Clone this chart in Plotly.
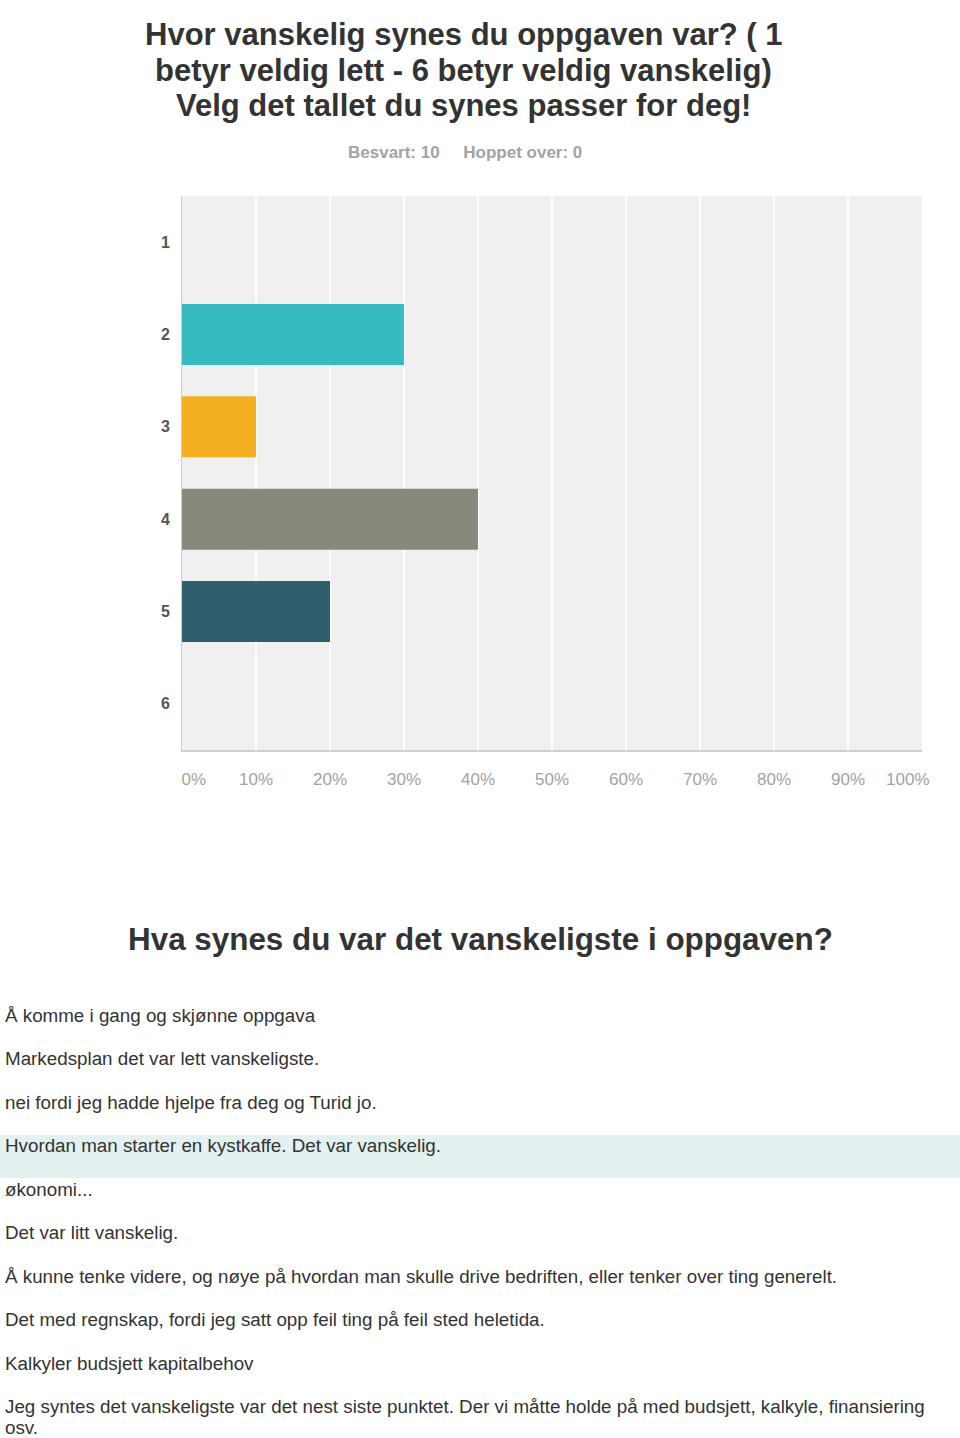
import plotly.graph_objects as go

categories = ["1", "2", "3", "4", "5", "6"]
percent = [0, 30, 10, 40, 20, 0]
bar_colors = ["#36BCC0", "#36BCC0", "#F5AF23", "#878A7A", "#2F5F6C", "#8AB9C9"]
x_ticks = [0, 10, 20, 30, 40, 50, 60, 70, 80, 90, 100]
x_ticklabels = ["0%", "10%", "20%", "30%", "40%", "50%", "60%", "70%", "80%", "90%", "100%"]

title_lines = [
    "Hvor vanskelig synes du oppgaven var? ( 1",
    "betyr veldig lett - 6 betyr veldig vanskelig)",
    "Velg det tallet du synes passer for deg!",
]
subtitle = "Besvart: 10&nbsp;&nbsp;&nbsp;&nbsp;&nbsp;Hoppet over: 0"
heading2 = "Hva synes du var det vanskeligste i oppgaven?"
answers = [
    "Å komme i gang og skjønne oppgava",
    "Markedsplan det var lett vanskeligste.",
    "nei fordi jeg hadde hjelpe fra deg og Turid jo.",
    "Hvordan man starter en kystkaffe. Det var vanskelig.",
    "økonomi...",
    "Det var litt vanskelig.",
    "Å kunne tenke videre, og nøye på hvordan man skulle drive bedriften, eller tenker over ting generelt.",
    "Det med regnskap, fordi jeg satt opp feil ting på feil sted heletida.",
    "Kalkyler budsjett kapitalbehov",
    "Jeg syntes det vanskeligste var det nest siste punktet. Der vi måtte holde på med budsjett, kalkyle, finansiering",
    "osv.",
]
answer_y_px = [1015, 1058, 1102, 1145, 1189, 1232, 1276, 1319, 1363, 1406, 1427]

W, H = 960, 1438
def py(px):
    return 1 - px / H

# first / last x labels are nudged inward like the original (padding with spaces)
tick_text = list(x_ticklabels)
tick_text[0] = "&nbsp;" * 5 + tick_text[0]
tick_text[-1] = tick_text[-1] + "&nbsp;" * 6

fig = go.Figure()
fig.add_trace(go.Bar(
    x=percent, y=categories, orientation="h",
    marker=dict(color=bar_colors, line=dict(width=0)),
    hoverinfo="x+y",
))

fig.update_layout(
    width=W, height=H, autosize=False,
    margin=dict(l=0, r=0, t=0, b=0, autoexpand=False),
    paper_bgcolor="white",
    plot_bgcolor="#F0F0F0",
    bargap=0.34,
    showlegend=False,
    font=dict(family="Liberation Sans, Arial, sans-serif"),
    xaxis=dict(
        domain=[182 / W, 922 / W],
        range=[0, 100],
        tickvals=x_ticks, ticktext=tick_text,
        ticklabeloverflow="allow",
        showgrid=True, gridcolor="#FFFFFF", gridwidth=2,
        zeroline=False,
        showline=True, linecolor="#D0D0D0", linewidth=2,
        ticks="outside", ticklen=13, tickcolor="rgba(0,0,0,0)",
        tickfont=dict(size=17, color="#A3A3A3"),
        fixedrange=True, automargin=False,
    ),
    yaxis=dict(
        domain=[py(750), py(196)],
        categoryorder="array", categoryarray=categories[::-1],
        tickvals=categories, ticktext=[f"<b>{c}</b>" for c in categories],
        showgrid=False, zeroline=False,
        showline=True, linecolor="#D0D0D0", linewidth=1,
        ticks="outside", ticklen=8, tickcolor="rgba(0,0,0,0)",
        tickfont=dict(size=16, color="#555555"),
        fixedrange=True, automargin=False,
    ),
)

ann = []
for i, line in enumerate(title_lines):
    ann.append(dict(
        text=f"<b>{line}</b>", x=463.5 / W, y=py(35 + i * 35.5),
        xref="paper", yref="paper", xanchor="center", yanchor="middle",
        showarrow=False, font=dict(size=31, color="#333333"),
    ))
ann.append(dict(
    text=f"<b>{subtitle}</b>", x=464.5 / W, y=py(153),
    xref="paper", yref="paper", xanchor="center", yanchor="middle",
    showarrow=False, font=dict(size=17, color="#A3A3A3"),
))
ann.append(dict(
    text=f"<b>{heading2}</b>", x=480 / W, y=py(939),
    xref="paper", yref="paper", xanchor="center", yanchor="middle",
    showarrow=False, font=dict(size=31.4, color="#333333"),
))
for txt, ypx in zip(answers, answer_y_px):
    ann.append(dict(
        text=txt, x=3 / W, y=py(ypx),
        xref="paper", yref="paper", xanchor="left", yanchor="middle",
        showarrow=False, font=dict(size=18.8, color="#333333"),
    ))
fig.update_layout(annotations=ann)

fig.add_shape(
    type="rect", xref="paper", yref="paper",
    x0=0, x1=1, y0=py(1178), y1=py(1135),
    fillcolor="#E3F1F1", line=dict(width=0), layer="below",
)

fig.write_html("out.html")
